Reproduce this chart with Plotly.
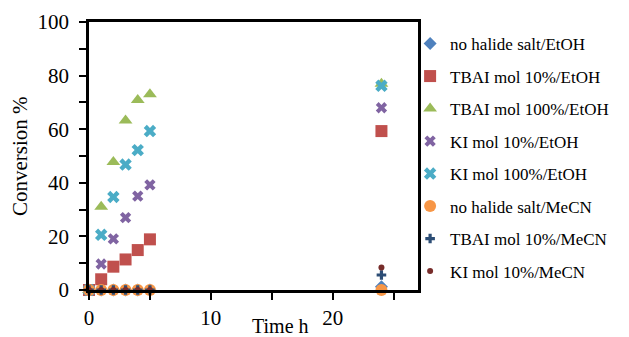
import plotly.graph_objects as go

time_h = [0, 1, 2, 3, 4, 5, 24]

series_names = [
    "no halide salt/EtOH",
    "TBAI mol 10%/EtOH",
    "TBAI mol 100%/EtOH",
    "KI mol 10%/EtOH",
    "KI mol 100%/EtOH",
    "no halide salt/MeCN",
    "TBAI mol 10%/MeCN",
    "KI mol 10%/MeCN",
]
no_halide_etoh = [0, 0, 0, 0, 0, 0, 1.2]
tbai10_etoh = [0, 4.0, 8.7, 11.4, 14.9, 18.9, 59.3]
tbai100_etoh = [0, 31.1, 47.8, 63.2, 70.9, 73.0, 77.0]
ki10_etoh = [0, 9.7, 19.1, 27.0, 35.0, 39.2, 68.0]
ki100_etoh = [0, 20.6, 34.7, 46.8, 52.2, 59.3, 76.2]
no_halide_mecn = [0, 0, 0, 0, 0, 0, 0]
tbai10_mecn = [0, 0, 0, 0, 0, 0, 5.6]
ki10_mecn = [0, 0, 0, 0, 0, 0, 8.4]

values = [no_halide_etoh, tbai10_etoh, tbai100_etoh, ki10_etoh,
          ki100_etoh, no_halide_mecn, tbai10_mecn, ki10_mecn]
colors = ["#4F81BD", "#C0504D", "#9BBB59", "#8064A2",
          "#4BACC6", "#F79646", "#2C4D75", "#772C2A"]
symbols = ["diamond", "square", "triangle-up", "x",
           "x", "circle", "cross", "circle"]
sizes = [10, 12, 12, 10, 11, 12, 8, 6]

font_family = "Liberation Serif"

# The page body has an 8px margin, so the figure is sized 8px smaller.
fig = go.Figure()
for name, v, c, s, sz in zip(series_names, values, colors, symbols, sizes):
    fig.add_trace(go.Scatter(
        x=time_h, y=v, mode="markers", name=name, legendgroup=name,
        marker=dict(color=c, symbol=s, size=sz, line=dict(width=0)),
        cliponaxis=False,
    ))

fig.update_layout(
    width=621, height=329,
    margin=dict(l=81, r=211, t=14, b=47, autoexpand=False),
    paper_bgcolor="white", plot_bgcolor="white",
    font=dict(family=font_family, size=21, color="black"),
    showlegend=True,
    legend=dict(x=0.976, y=0.985, xanchor="left", yanchor="top",
                font=dict(size=17, family=font_family),
                tracegroupgap=7.4, itemwidth=30, maxheight=1.0,
                bgcolor="rgba(0,0,0,0)"),
    xaxis=dict(range=[0, 27], tickvals=[0, 10, 20], ticks="outside",
               ticklen=7, tickwidth=2, tickcolor="black",
               tickfont=dict(family=font_family, size=21),
               minor=dict(dtick=5, tick0=0, ticks="outside", ticklen=7,
                          tickwidth=2, tickcolor="black"),
               showline=True, linewidth=2.5, linecolor="black", mirror=True,
               showgrid=False, zeroline=False),
    yaxis=dict(range=[0, 100], tickvals=[0, 20, 40, 60, 80, 100],
               ticks="outside", ticklen=7, tickwidth=2, tickcolor="black",
               tickfont=dict(family=font_family, size=21),
               minor=dict(dtick=10, tick0=0, ticks="outside", ticklen=7,
                          tickwidth=2, tickcolor="black"),
               showline=True, linewidth=2.5, linecolor="black", mirror=True,
               showgrid=False, zeroline=False, ticklabelstandoff=6),
    annotations=[
        dict(text="Time h", xref="paper", yref="paper", x=(280 - 89) / 329,
             y=-(326 - 290) / 268, xanchor="center", yanchor="middle",
             showarrow=False, font=dict(size=20, family=font_family)),
        dict(text="Conversion %", xref="paper", yref="paper",
             x=-(89 - 20) / 329, y=0.5, xanchor="center", yanchor="middle",
             textangle=-90, showarrow=False,
             font=dict(size=21, family=font_family)),
    ],
)

fig.write_html("out.html")
